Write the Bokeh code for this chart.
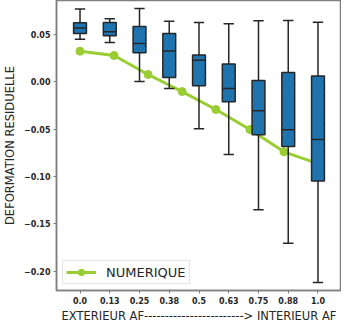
from bokeh.plotting import figure
from bokeh.models import FixedTicker, Range1d, Legend, LegendItem
from bokeh.embed import file_html
from bokeh.resources import INLINE

# ---- data ----
tick_labels = ["0.0", "0.13", "0.25", "0.38", "0.5", "0.63", "0.75", "0.88", "1.0"]
box_x = [0.0, 0.125, 0.25, 0.375, 0.5, 0.625, 0.75, 0.875, 1.0]
whisk_hi = [0.077, 0.0667, 0.0775, 0.064, 0.0627, 0.0613, 0.0645, 0.0648, 0.063]
q3 = [0.0624, 0.0627, 0.0585, 0.051, 0.0282, 0.0187, 0.0014, 0.0098, 0.006]
med = [0.0568, 0.053, 0.0405, 0.0325, 0.0229, -0.007, -0.0307, -0.0507, -0.061]
q1 = [0.051, 0.0486, 0.0307, 0.0045, -0.0042, -0.0211, -0.056, -0.0684, -0.1047]
whisk_lo = [0.045, 0.0415, 0.0003, -0.007, -0.0497, -0.0768, -0.1353, -0.1705, -0.2121]

num_x = [0.0, 0.143, 0.286, 0.429, 0.571, 0.714, 0.857, 1.0]
num_y = [0.0323, 0.0278, 0.0077, -0.0103, -0.0293, -0.0504, -0.074, -0.0864]

y_ticks = [0.05, 0.0, -0.05, -0.10, -0.15, -0.20]
y_tick_labels = ["0.05", "0.00", "\u22120.05", "\u22120.10", "\u22120.15", "\u22120.20"]

BOX_W = 0.054
CAP_W = 0.0435

p = figure(width=341, height=325, output_backend="svg", toolbar_location=None,
           x_range=Range1d(-0.0988, 1.0988), y_range=Range1d(-0.2205, 0.0859),
           min_border_left=46, min_border_right=0, min_border_top=0, min_border_bottom=29)
p.xgrid.visible = False
p.ygrid.visible = False
p.outline_line_color = "#7f7f7f"
p.outline_line_width = 1.5

# numeric line (drawn under boxes)
ln = p.line(num_x, num_y, line_color="#9acd32", line_width=3)
sc = p.scatter(num_x, num_y, size=8, fill_color="#9acd32", line_color="#9acd32")

# whiskers
p.segment(x0=box_x, y0=q3, x1=box_x, y1=whisk_hi, line_color="#262626", line_width=1.5)
p.segment(x0=box_x, y0=q1, x1=box_x, y1=whisk_lo, line_color="#262626", line_width=1.5)
# caps
p.segment(x0=[x - CAP_W / 2 for x in box_x], y0=whisk_hi,
          x1=[x + CAP_W / 2 for x in box_x], y1=whisk_hi, line_color="#262626", line_width=1.5)
p.segment(x0=[x - CAP_W / 2 for x in box_x], y0=whisk_lo,
          x1=[x + CAP_W / 2 for x in box_x], y1=whisk_lo, line_color="#262626", line_width=1.5)
# boxes
p.vbar(x=box_x, width=BOX_W, bottom=q1, top=q3, fill_color="#1f77b4",
       line_color="#262626", line_width=1.5,
       hatch_pattern="/", hatch_color="#1a5f91", hatch_scale=7, hatch_weight=0.6)
# medians
p.segment(x0=[x - BOX_W / 2 for x in box_x], y0=med,
          x1=[x + BOX_W / 2 for x in box_x], y1=med, line_color="#262626", line_width=1.5)

# axes
p.xaxis.ticker = FixedTicker(ticks=box_x)
p.xaxis.major_label_overrides = {x: l for x, l in zip(box_x, tick_labels)}
p.yaxis.ticker = FixedTicker(ticks=y_ticks)
p.yaxis.major_label_overrides = {y: l for y, l in zip(y_ticks, y_tick_labels)}
for ax in (p.xaxis[0], p.yaxis[0]):
    ax.major_label_text_font = "DejaVu Sans"
    ax.major_label_text_font_style = "bold"
    ax.major_label_text_font_size = "8px"
    ax.major_label_text_color = "#262626"
    ax.axis_line_color = "#7f7f7f"
    ax.axis_line_width = 1.5
    ax.major_tick_line_color = "#7f7f7f"
    ax.major_tick_in = 0
    ax.major_tick_out = 3
    ax.minor_tick_line_color = None
    ax.axis_label_text_font = "DejaVu Sans"
    ax.axis_label_text_font_style = "normal"
    ax.axis_label_text_font_size = "11.5px"
    ax.axis_label_text_color = "#262626"
p.xaxis.axis_label = "EXTERIEUR AF" + "-" * 24 + "> INTERIEUR AF"
p.yaxis.axis_label = "DEFORMATION RESIDUELLE"
p.xaxis.major_label_standoff = 3
p.xaxis.axis_label_standoff = 2
p.yaxis.major_label_standoff = 3
p.yaxis.axis_label_standoff = 4

legend = Legend(items=[LegendItem(label="NUMERIQUE", renderers=[ln, sc])],
                location=(6, 6), label_text_font="DejaVu Sans", label_text_font_size="13px",
                label_text_color="#262626", glyph_width=30, glyph_height=16,
                border_line_color="#cccccc", border_line_width=1,
                padding=3, label_standoff=10, margin=0, label_height=16)
p.add_layout(legend, "center")

open("out.html", "w").write(file_html(p, INLINE))
